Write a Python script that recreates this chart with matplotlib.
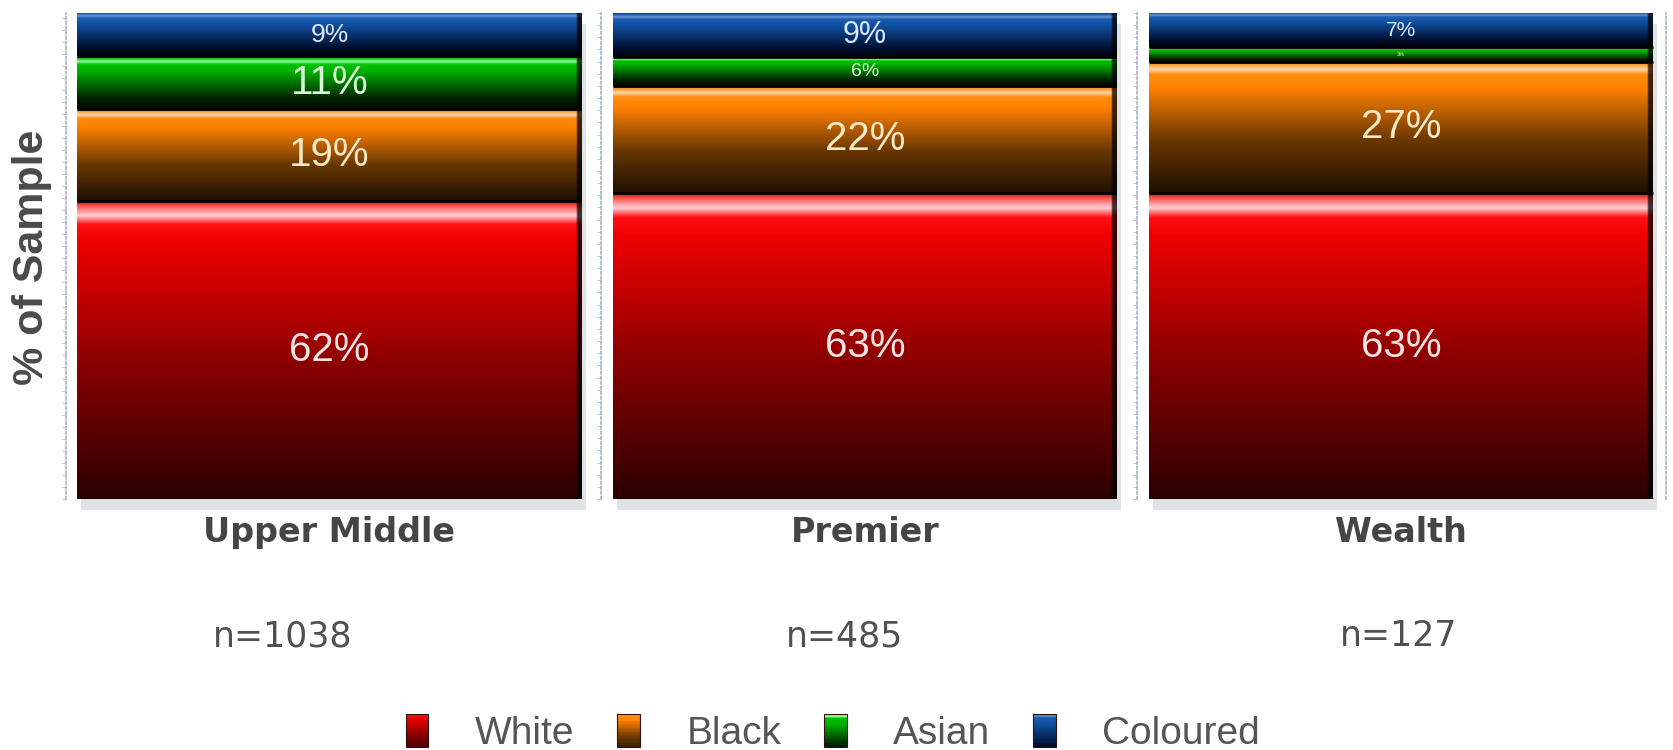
import numpy as np
import matplotlib
matplotlib.use("Agg")
import matplotlib.pyplot as plt
from matplotlib.colors import LinearSegmentedColormap
from matplotlib.patches import Patch, Rectangle
from matplotlib.legend_handler import HandlerBase
import matplotlib.patheffects as pe

# ---------------- data ----------------
categories = ["Upper Middle", "Premier", "Wealth"]
sample_sizes = ["n=1038", "n=485", "n=127"]
series = ["White", "Black", "Asian", "Coloured"]
white = [62, 63, 63]
black = [19, 22, 27]
asian = [11, 6, 3]
coloured = [9, 9, 7]
labels_white = ["62%", "63%", "63%"]
labels_black = ["19%", "22%", "27%"]
labels_asian = ["11%", "6%", "3%"]
labels_coloured = ["9%", "9%", "7%"]

values = [white, black, asian, coloured]
labels = [labels_white, labels_black, labels_asian, labels_coloured]

# ---------------- style ----------------
W, H = 1674, 750
fig = plt.figure(figsize=(W / 100, H / 100), dpi=100)
fig.patch.set_facecolor("white")

cmaps = {
    "White": [(0, '#2b0000'), (0.45, '#8a0000'), (0.86, '#f00000'), (0.92, '#ff1010'),
              (0.95, '#ffd0d8'), (0.975, '#ff7070'), (1, '#e00000')],
    "Black": [(0, '#1e1000'), (0.4, '#6a3800'), (0.8, '#ff8000'), (0.9, '#ff8c10'),
              (0.94, '#ffd8a8'), (0.97, '#ffa040'), (1, '#e07800')],
    "Asian": [(0, '#000800'), (0.2, '#002200'), (0.72, '#00b000'), (0.84, '#00c000'),
              (0.9, '#90ff90'), (0.95, '#20c020'), (1, '#00a000')],
    "Coloured": [(0, '#000010'), (0.2, '#001030'), (0.72, '#1050a0'), (0.86, '#1a5cb0'),
                 (0.92, '#6a98dc'), (0.96, '#2060b0'), (1, '#104080')],
}
text_colors = {"White": "#ffe4e4", "Black": "#ffe8c8", "Asian": "#d8ffd8", "Coloured": "#dde9ff"}
label_sizes = {
    "White": [29, 29, 29],
    "Black": [29, 29, 29],
    "Asian": [29, 14, 4],
    "Coloured": [19, 22, 15],
}
# n-label horizontal position within bar (bar spans 0..1)
n_label_x = [0.408, 0.46, 0.496]

cm_objs = {k: LinearSegmentedColormap.from_list(k, v, N=256) for k, v in cmaps.items()}


def gradient_image(cmap):
    v = np.linspace(0, 1, 256)
    rgb = cmap(v)[:, :3]                      # rows bottom->top
    u = np.linspace(0, 1, 300)
    shade = np.ones_like(u)
    shade[u > 0.992] = 0.25                   # dark right edge
    img = rgb[:, None, :] * shade[None, :, None]
    return np.clip(img, 0, 1)


class GradientHandler(HandlerBase):
    def __init__(self, cmap, **kw):
        super().__init__(**kw)
        self.cmap = cmap

    def create_artists(self, legend, orig_handle, xdescent, ydescent, width, height,
                       fontsize, trans):
        arts = []
        n = 24
        for k in range(n):
            frac = (k + 0.5) / n
            arts.append(Rectangle((-xdescent, -ydescent + height * k / n), width, height / n + 0.3,
                                  facecolor=self.cmap(0.15 + 0.8 * frac), edgecolor="none",
                                  transform=trans))
        arts.append(Rectangle((-xdescent, -ydescent), width, height, facecolor="none",
                              edgecolor="#301010", linewidth=0.8, transform=trans))
        return arts


# panel pixel layout: (axis line x, bar left, bar right, axes right)
panels = [(66, 77, 582, 582), (601, 613, 1117, 1117), (1137, 1149, 1653, 1666)]
bar_top, bar_bottom = 13, 499

for i, (ax0, b0, b1, ax1) in enumerate(panels):
    ax = fig.add_axes([ax0 / W, 1 - bar_bottom / H, (ax1 - ax0) / W, (bar_bottom - bar_top) / H])
    ax.set_facecolor("white")
    total = sum(v[i] for v in values)
    xlo = (ax0 - b0) / (b1 - b0)
    xhi = (ax1 - b0) / (b1 - b0)

    # shadow
    sh = ax.bar(0.5, total, 1.0, bottom=0, color="white", zorder=1, clip_on=False)[0]
    sh.set_path_effects([pe.SimplePatchShadow(offset=(3, -8), shadow_rgbFace="#a8b0b0", alpha=0.35),
                         pe.Normal()])

    bottom = 0
    for s, name in enumerate(series):
        h = values[s][i]
        bar = ax.bar(0.5, h, 1.0, bottom=bottom, color="none", edgecolor="none", zorder=2)[0]
        im = ax.imshow(gradient_image(cm_objs[name]), aspect="auto", origin="lower",
                       extent=[0, 1, bottom, bottom + h], zorder=2, interpolation="bilinear")
        im.set_clip_path(bar)
        ax.hlines(bottom, 0, 1, color="#050000", lw=2.0, zorder=3)
        ax.text(0.5, bottom + h / 2, labels[s][i], ha="center", va="center",
                fontsize=label_sizes[name][i], color=text_colors[name],
                family="Liberation Sans", zorder=4)
        bottom += h

    ax.set_xlim(xlo, xhi)
    ax.set_ylim(0, total)
    for sp in ["top", "bottom"]:
        ax.spines[sp].set_visible(False)
    ax.spines["left"].set_linestyle((0, (1.5, 1.5)))
    ax.spines["left"].set_color("#aab4c4")
    ax.spines["left"].set_linewidth(1.2)
    if i == 2:
        ax.spines["right"].set_linestyle((0, (1.5, 1.5)))
        ax.spines["right"].set_color("#aab4c4")
        ax.spines["right"].set_linewidth(1.2)
    else:
        ax.spines["right"].set_visible(False)
    ax.set_yticks(np.arange(0, total + 0.1, 2.5))
    ax.tick_params(axis="y", length=3, color="#c0c8d0", labelleft=False, direction="out")
    ax.set_xticks([0.5])
    ax.set_xticklabels([categories[i]], fontsize=24, fontweight="bold", color="#454545",
                       family="DejaVu Sans")
    ax.tick_params(axis="x", length=0, pad=12)
    ax.text(n_label_x[i], -0.282, sample_sizes[i], transform=ax.get_xaxis_transform(),
            ha="center", va="center", fontsize=25, color="#505050", family="DejaVu Sans")

fig.text(32 / W, 1 - 257 / H, "% of Sample", rotation=90, ha="center", va="center",
         fontsize=31, fontweight="bold", color="#4a4a4a", family="Liberation Sans")

handles = [Patch(label=n) for n in series]
handler_map = {h: GradientHandler(cm_objs[n]) for h, n in zip(handles, series)}
leg = fig.legend(handles, series, loc="center", bbox_to_anchor=(833 / W, 1 - 733 / H), ncol=4,
                 frameon=False, prop={"family": "Liberation Sans", "size": 28},
                 handlelength=0.58, handleheight=0.95, handletextpad=1.2, columnspacing=1.1,
                 handler_map=handler_map)
for t in leg.get_texts():
    t.set_color("#555555")

fig.savefig("out.png", dpi=100, facecolor="white")
